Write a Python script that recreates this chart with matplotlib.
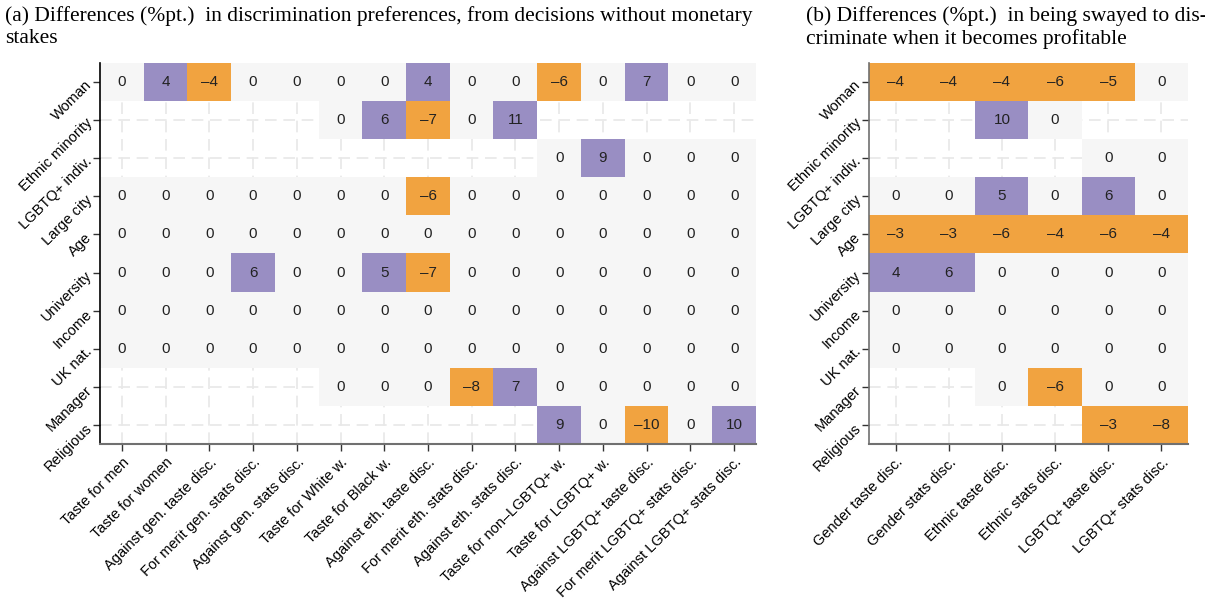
import numpy as np
import matplotlib
matplotlib.use("Agg")
import matplotlib.pyplot as plt
from matplotlib.colors import to_rgba

nan = np.nan

rows = ["Woman", "Ethnic minority", "LGBTQ+ indiv.", "Large city", "Age",
        "University", "Income", "UK nat.", "Manager", "Religious"]

cols_a = ["Taste for men", "Taste for women", "Against gen. taste disc.",
          "For merit gen. stats disc.", "Against gen. stats disc.",
          "Taste for White w.", "Taste for Black w.", "Against eth. taste disc.",
          "For merit eth. stats disc.", "Against eth. stats disc.",
          "Taste for non\u2013LGBTQ+ w.", "Taste for LGBTQ+ w.",
          "Against LGBTQ+ taste disc.", "For merit LGBTQ+ stats disc.",
          "Against LGBTQ+ stats disc."]

cols_b = ["Gender taste disc.", "Gender stats disc.", "Ethnic taste disc.",
          "Ethnic stats disc.", "LGBTQ+ taste disc.", "LGBTQ+ stats disc."]

# (a) differences in discrimination preferences, no monetary stakes
vals_a = np.array([
    [0, 4, -4, 0, 0, 0, 0, 4, 0, 0, -6, 0, 7, 0, 0],
    [nan, nan, nan, nan, nan, 0, 6, -7, 0, 11, nan, nan, nan, nan, nan],
    [nan, nan, nan, nan, nan, nan, nan, nan, nan, nan, 0, 9, 0, 0, 0],
    [0, 0, 0, 0, 0, 0, 0, -6, 0, 0, 0, 0, 0, 0, 0],
    [0, 0, 0, 0, 0, 0, 0, 0, 0, 0, 0, 0, 0, 0, 0],
    [0, 0, 0, 6, 0, 0, 5, -7, 0, 0, 0, 0, 0, 0, 0],
    [0, 0, 0, 0, 0, 0, 0, 0, 0, 0, 0, 0, 0, 0, 0],
    [0, 0, 0, 0, 0, 0, 0, 0, 0, 0, 0, 0, 0, 0, 0],
    [nan, nan, nan, nan, nan, 0, 0, 0, -8, 7, 0, 0, 0, 0, 0],
    [nan, nan, nan, nan, nan, nan, nan, nan, nan, nan, 9, 0, -10, 0, 10],
])

# (b) differences in being swayed when discrimination becomes profitable
vals_b = np.array([
    [-4, -4, -4, -6, -5, 0],
    [nan, nan, 10, 0, nan, nan],
    [nan, nan, nan, nan, 0, 0],
    [0, 0, 5, 0, 6, 0],
    [-3, -3, -6, -4, -6, -4],
    [4, 6, 0, 0, 0, 0],
    [0, 0, 0, 0, 0, 0],
    [0, 0, 0, 0, 0, 0],
    [nan, nan, 0, -6, 0, 0],
    [nan, nan, nan, nan, -3, -8],
])

POS = "#998ec3"
NEG = "#f1a340"
ZERO = "#f6f6f6"

plt.rcParams["font.family"] = ["Liberation Sans", "DejaVu Sans"]


def cell_colors(v):
    rgba = np.zeros(v.shape + (4,))
    rgba[v > 0] = to_rgba(POS)
    rgba[v < 0] = to_rgba(NEG)
    rgba[v == 0] = to_rgba(ZERO)
    return rgba


def draw(ax, vals, cols, left_color):
    nr, nc = vals.shape
    ax.set_axisbelow(True)
    ax.imshow(cell_colors(vals), extent=(-0.5, nc - 0.5, nr - 0.5, -0.5),
              aspect="auto", interpolation="nearest", zorder=1)
    for i in range(nr):
        for j in range(nc):
            if not np.isnan(vals[i, j]):
                s = f"{int(vals[i, j])}".replace("-", "\u2013")
                ax.text(j, i, s, ha="center", va="center", fontsize=11,
                        color="#222222", zorder=3)
    ax.set_xlim(-0.5, nc - 0.5)
    ax.set_ylim(nr - 0.5, -0.5)
    ax.set_xticks(range(nc))
    ax.set_yticks(range(nr))
    ax.set_xticklabels(cols, rotation=45, ha="right", rotation_mode="anchor",
                       fontsize=10.5)
    ax.set_yticklabels(rows, rotation=45, ha="right", rotation_mode="anchor",
                       fontsize=10.5)
    ax.grid(True, color="#e8e8e8", linestyle=(0, (7, 4)), linewidth=1.2)
    for side in ("top", "right"):
        ax.spines[side].set_visible(False)
    ax.spines["left"].set_color(left_color)
    ax.spines["left"].set_linewidth(1.2)
    ax.spines["bottom"].set_color("#707070")
    ax.spines["bottom"].set_linewidth(1.5)
    ax.spines["bottom"].set_zorder(4)
    ax.tick_params(length=5, width=1, color="#333333", pad=3)


fig = plt.figure(figsize=(12.05, 6.02), dpi=100)
ax_a = fig.add_axes([100 / 1205, 1 - 444 / 602, 656 / 1205, 381 / 602])
ax_b = fig.add_axes([869 / 1205, 1 - 444 / 602, 319 / 1205, 381 / 602])

draw(ax_a, vals_a, cols_a, "black")
draw(ax_b, vals_b, cols_b, "#707070")

title_kw = dict(family=["Liberation Serif", "DejaVu Serif"], fontsize=15.5,
                va="top", ha="left", linespacing=1.22)
fig.text(5 / 1205, 1 - 6 / 602,
         "(a) Differences (%pt.)  in discrimination preferences, from decisions without monetary\nstakes",
         **title_kw)
fig.text(806 / 1205, 1 - 6 / 602,
         "(b) Differences (%pt.)  in being swayed to dis-\ncriminate when it becomes profitable",
         **title_kw)

fig.savefig("out.png", dpi=100)
